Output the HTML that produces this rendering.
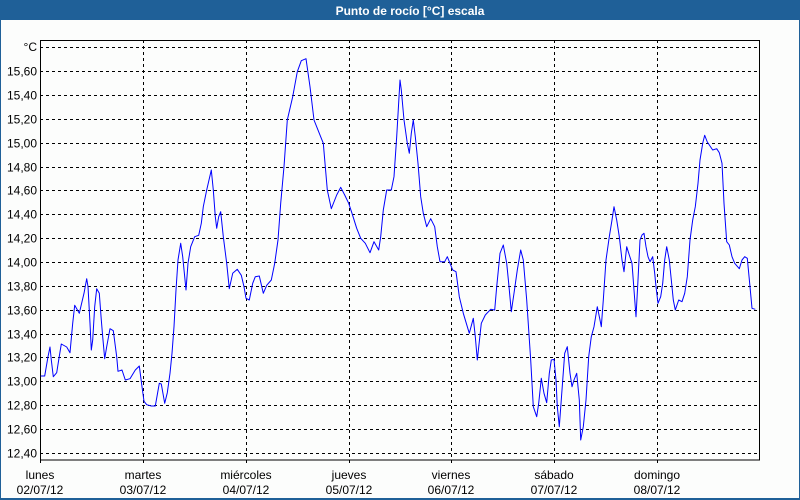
<!DOCTYPE html>
<html>
<head>
<meta charset="utf-8">
<style>
html,body{margin:0;padding:0;background:#fff;}
#c{position:relative;width:800px;height:500px;overflow:hidden;}
svg{display:block;}
text{font-family:"Liberation Sans",Arial,sans-serif;}
</style>
</head>
<body>
<div id="c">
<svg width="800" height="500" viewBox="0 0 800 500" xmlns="http://www.w3.org/2000/svg">
  <!-- frame -->
  <rect x="0" y="0" width="800" height="500" fill="#1f6098"/>
  <rect x="1" y="20" width="798" height="478" fill="#fcfdfc"/>
  <text x="410" y="15" font-size="12" font-weight="bold" fill="#ffffff" text-anchor="middle">Punto de rocío [°C] escala</text>

  <!-- horizontal grid -->
  <g stroke="#000" stroke-width="1" stroke-dasharray="3,3" fill="none" shape-rendering="crispEdges">
    <line x1="40" y1="47.5" x2="760" y2="47.5"/>
    <line x1="40" y1="71.5" x2="760" y2="71.5"/>
    <line x1="40" y1="95.5" x2="760" y2="95.5"/>
    <line x1="40" y1="119.5" x2="760" y2="119.5"/>
    <line x1="40" y1="143.5" x2="760" y2="143.5"/>
    <line x1="40" y1="167.5" x2="760" y2="167.5"/>
    <line x1="40" y1="190.5" x2="760" y2="190.5"/>
    <line x1="40" y1="214.5" x2="760" y2="214.5"/>
    <line x1="40" y1="238.5" x2="760" y2="238.5"/>
    <line x1="40" y1="262.5" x2="760" y2="262.5"/>
    <line x1="40" y1="286.5" x2="760" y2="286.5"/>
    <line x1="40" y1="310.5" x2="760" y2="310.5"/>
    <line x1="40" y1="334.5" x2="760" y2="334.5"/>
    <line x1="40" y1="357.5" x2="760" y2="357.5"/>
    <line x1="40" y1="381.5" x2="760" y2="381.5"/>
    <line x1="40" y1="405.5" x2="760" y2="405.5"/>
    <line x1="40" y1="429.5" x2="760" y2="429.5"/>
    <line x1="40" y1="453.5" x2="760" y2="453.5"/>
    <!-- vertical grid -->
    <line x1="143.5" y1="40" x2="143.5" y2="460"/>
    <line x1="246.5" y1="40" x2="246.5" y2="460"/>
    <line x1="349.5" y1="40" x2="349.5" y2="460"/>
    <line x1="451.5" y1="40" x2="451.5" y2="460"/>
    <line x1="554.5" y1="40" x2="554.5" y2="460"/>
    <line x1="657.5" y1="40" x2="657.5" y2="460"/>
  </g>

  <!-- plot box -->
  <g stroke="#000" stroke-width="1" fill="none" shape-rendering="crispEdges">
    <rect x="40.5" y="40.5" width="719" height="419.5"/>
    <line x1="40.5" y1="460" x2="40.5" y2="463"/>
    <line x1="143.5" y1="460" x2="143.5" y2="463"/>
    <line x1="246.5" y1="460" x2="246.5" y2="463"/>
    <line x1="349.5" y1="460" x2="349.5" y2="463"/>
    <line x1="451.5" y1="460" x2="451.5" y2="463"/>
    <line x1="554.5" y1="460" x2="554.5" y2="463"/>
    <line x1="657.5" y1="460" x2="657.5" y2="463"/>
  </g>

  <!-- y labels -->
  <g font-size="12" fill="#000" text-anchor="end">
    <text x="37" y="51">°C</text>
    <text x="37" y="75.5">15,60</text>
    <text x="37" y="99.5">15,40</text>
    <text x="37" y="123.5">15,20</text>
    <text x="37" y="147.5">15,00</text>
    <text x="37" y="171.5">14,80</text>
    <text x="37" y="194.5">14,60</text>
    <text x="37" y="218.5">14,40</text>
    <text x="37" y="242.5">14,20</text>
    <text x="37" y="266.5">14,00</text>
    <text x="37" y="290.5">13,80</text>
    <text x="37" y="314.5">13,60</text>
    <text x="37" y="338.5">13,40</text>
    <text x="37" y="361.5">13,20</text>
    <text x="37" y="385.5">13,00</text>
    <text x="37" y="409.5">12,80</text>
    <text x="37" y="433.5">12,60</text>
    <text x="37" y="457.5">12,40</text>
  </g>

  <!-- x labels -->
  <g font-size="12" fill="#000" text-anchor="middle">
    <text x="40" y="479">lunes</text><text x="40" y="494">02/07/12</text>
    <text x="143" y="479">martes</text><text x="143" y="494">03/07/12</text>
    <text x="246" y="479">miércoles</text><text x="246" y="494">04/07/12</text>
    <text x="349" y="479">jueves</text><text x="349" y="494">05/07/12</text>
    <text x="451" y="479">viernes</text><text x="451" y="494">06/07/12</text>
    <text x="554" y="479">sábado</text><text x="554" y="494">07/07/12</text>
    <text x="657" y="479">domingo</text><text x="657" y="494">08/07/12</text>
  </g>

  <!-- series -->
  <polyline fill="none" stroke="#0000ff" stroke-width="1" stroke-linejoin="round" points="
40.7,376 44.7,376 48,356.7 50,347 51.3,360 53.3,376.7 56.7,372.7 58.7,360 61.3,344 66.7,347 70,352.7 72.7,323.3 74.7,305.3 79.3,313.3 84,293.3 86.7,278.7 88,286.7 90,323.3 91.3,350 92.7,340 94.7,306.7 96.7,288.7 99.3,293.3 101.3,320 102.7,336.7 104.7,358.7 106.7,346.7 110,328.7 113.3,330.7 116.7,356.7 118,371.3 122,370 125.3,380 130,378.7 135.3,370 139.3,366 142,386.7 144,401.3 146.7,404.7 151.3,406 155.3,406 159.3,383.3 161.3,384 164.7,403.3 167.3,392.7 170,373.3 172,353.3 174,326.7 176,290 178,260 180.7,243.3 182.7,256.7 184.7,276.7 186,290 188,263.3 190.7,246.7 194.7,236.7 198.7,235.3 201.3,223.3 203.3,206.7 206.7,190 211.3,170 213.3,190 215.3,216.7 216.7,228.3 218.7,216.7 220.7,211.7 223.3,236.7 226.7,263.3 229.3,288.7 232.7,273.3 237.3,269.3 241.3,275.3 244,286.7 246,298.3 249.3,300 252.7,283.3 255.3,276.7 259.3,276 263.3,293.3 266.7,285.3 271.3,280 274.7,263.3 278,240 280.7,203.3 284,166.7 287.3,120 292.7,96.7 297.3,71.7 301.3,60.7 306,58.7 310,86.7 314,120 319.3,133.3 323.3,143.3 327.3,190 331.3,208.7 336.7,195 340.7,187.3 344.7,195 348.7,203.3 352,213.3 356.7,228.3 360.7,238.3 365.3,243.3 370,252.7 374,241.7 378.7,250 380.7,236.7 383.3,210 386.7,190 391.3,190 394,176.7 396.7,136.7 400,80 401.3,90 404,120 407.3,143.3 409.3,153.3 411.3,133.3 413.3,120 415.3,136.7 418,163.3 420.7,196.7 423.3,213.3 426.7,226.7 430.7,218.7 434.7,226.7 437.3,246.7 440,261.7 444.7,261.7 447.3,256.7 450,263.3 452.7,270 456,271.7 459.3,296.7 463.3,313.3 469.3,333.3 473.3,318.3 475.3,336.7 477.3,360 481.3,323.3 485.3,315 490.7,309.3 494.7,310 496.7,286.7 500,253.3 503.3,245 506.7,263.3 508.7,283.3 511.3,311.7 514,293.3 517.3,270 520.7,250 523.3,260 526.7,300 530.7,360 533.3,406.7 536.7,416.7 538.7,403.3 541.3,378.3 544,393.3 546.7,402.7 549.3,373.3 551.3,360 554,359.3 556,380 557.3,406.7 559.3,426.7 562,390 564.7,353.3 567.3,346.7 570,373.3 572,386.7 574,380 576.7,373.3 579.3,400 580.7,440 583.3,426.7 586,400 588.7,356.7 591.3,336.7 594,326.7 597.3,306.7 600,320 601.3,326.7 603.3,300 606,260 609.3,236.7 612,220 614,206.7 616.7,220 619.3,236.7 622,260 624,271.7 626.7,246.7 629.3,255 632,263.3 634,290 636,316.7 638,280 640,240 642,235 644,233.3 646,246.7 648,256.7 650,261.7 652.7,256.7 654.7,273.3 656,286.7 658,303.3 660.7,296.7 662.7,283.3 664.7,260 666.7,246.7 669.3,260 671.3,280 673.3,300 675.3,310 678.7,300 682,301.7 684.7,293.3 687.3,276.7 690,240 692.7,220 695.3,206.7 698,183.3 700,160 702.7,143.3 704.7,135.3 707.3,142 710,146 712.7,150 716.7,148.7 719.3,152.7 722,163.3 724,203.3 726.7,241.7 729.3,245 732,256.7 734.7,263.3 739.3,268.7 742,260 744.7,256.7 747.3,258.3 750,286.7 752,308.3 755.3,309.3"/>
</svg>
</div>
</body>
</html>
